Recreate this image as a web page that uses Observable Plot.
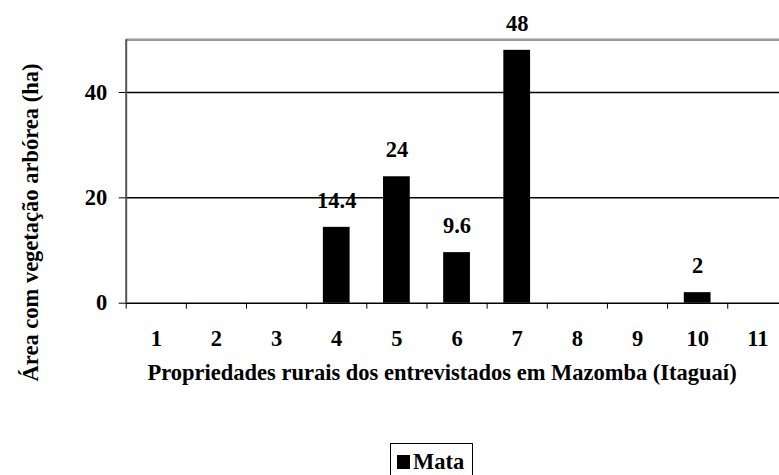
<!DOCTYPE html>
<html>
<head>
<meta charset="utf-8">
<script src="https://cdn.jsdelivr.net/npm/d3@7"></script>
<script src="https://cdn.jsdelivr.net/npm/@observablehq/plot@0.6"></script>
<style>
  html, body { margin: 0; padding: 0; background: white; overflow: hidden; font-family: "Liberation Serif", "Times New Roman", serif; }
  #chart svg { display: block; font-family: "Liberation Serif", "Times New Roman", serif !important; }
  .legend { position: absolute; left: 390px; top: 443px; border: 1px solid #000; padding: 5px 8px 12px 6px;
    font-family: "Liberation Serif", "Times New Roman", serif; font-weight: bold; font-size: 22.5px; display: flex; align-items: center; }
  .legend .sw { width: 13px; height: 14px; background: #000; margin-right: 3px; }
</style>
</head>
<body>
<div id="chart"></div>
<div class="legend"><span class="sw"></span><span>Mata</span></div>
<script>
const props = [1, 2, 3, 4, 5, 6, 7, 8, 9, 10, 11];
const area = [0, 0, 0, 14.4, 24, 9.6, 48, 0, 0, 2, 0];
const yTicks = [0, 20, 40];
const yLabel = "Área com vegetação arbórea (ha)";
const xLabel = "Propriedades rurais dos entrevistados em Mazomba (Itaguaí)";
const seriesName = "Mata";

const data = props.map((p, i) => ({p, v: area[i]}));
const nonZero = data.filter(d => d.v > 0);
const boundaries = d3.range(0.5, props.length + 1, 1);

const chart = Plot.plot({
  width: 779,
  height: 430,
  marginLeft: 125.7,
  marginRight: -8.4,
  marginTop: 39.3,
  marginBottom: 127.3,
  style: {fontFamily: "'Liberation Serif'", fontSize: "22.5px", fontWeight: "bold", color: "black"},
  x: {domain: [0.5, props.length + 0.5]},
  y: {domain: [0, 50]},
  marks: [
    Plot.ruleY([20, 40], {stroke: "black", strokeWidth: 1.5}),
    Plot.ruleY([50], {stroke: "#999", strokeWidth: 2.5}),
    Plot.rectY(nonZero, {x1: d => d.p - 0.5, x2: d => d.p + 0.5, y: "v", fill: "black", insetLeft: 16.7, insetRight: 16.7}),
    Plot.text(nonZero, {x: "p", y: "v", text: d => String(d.v), dy: -26.5, fill: "black"}),
    Plot.ruleY([0], {stroke: "black", strokeWidth: 1.5}),
    Plot.ruleX([0.5], {stroke: "#555", strokeWidth: 2}),
    Plot.axisY({ticks: yTicks, tickSize: 7, tickPadding: 12, label: null, stroke: "black"}),
    Plot.axisX({ticks: boundaries, tickSize: 6, tickFormat: () => "", label: null, stroke: "black"}),
    Plot.axisX({ticks: props, tickSize: 0, tickPadding: 27, label: null}),
    Plot.text([xLabel], {frameAnchor: "bottom", text: d => d, dx: -15, dy: 77, fill: "black"}),
    Plot.text([yLabel], {frameAnchor: "left", textAnchor: "middle", text: d => d, rotate: -90, dx: -95, dy: 51, fill: "black"})
  ]
});
document.getElementById("chart").appendChild(chart);
</script>
</body>
</html>
